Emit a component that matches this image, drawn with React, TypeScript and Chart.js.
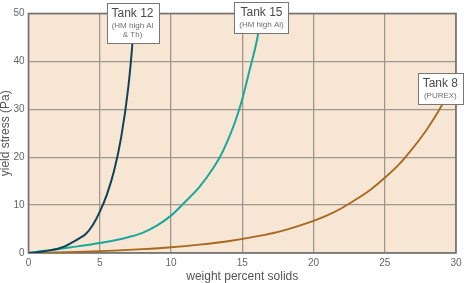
import React, { useEffect, useRef } from "react";
import { Chart, registerables } from "chart.js";

Chart.register(...registerables);

// ---- data ----
const tank12X = [0, 0.5, 1, 1.5, 2, 2.5, 3, 3.5, 4, 4.5, 5, 5.5, 6, 6.5, 7, 7.3, 7.5];
const tank12Y = [0, 0.13, 0.32, 0.55, 0.85, 1.32, 2.1, 2.95, 3.9, 5.8, 8.6, 12.2, 17.1, 24.1, 34.5, 44, 52.7];

const tank15X = [0, 1, 2, 3, 4, 5, 6, 7, 8, 9, 10, 11, 12, 13, 13.5, 14, 14.5, 15, 15.5, 16, 16.5];
const tank15Y = [0, 0.4, 0.8, 1.2, 1.6, 2.1, 2.6, 3.3, 4.2, 5.7, 7.8, 10.7, 13.8, 17.9, 20.4, 23.6, 27.4, 32.1, 38, 44, 52];

const tank8X = [0, 2, 4, 6, 8, 10, 12, 14, 16, 18, 20, 21, 22, 23, 24, 25, 26, 27, 28, 29, 30];
const tank8Y = [0, 0.15, 0.3, 0.5, 0.8, 1.2, 1.75, 2.45, 3.45, 4.8, 6.7, 7.9, 9.4, 11.2, 13.2, 15.7, 18.5, 22, 26, 30.8, 36.6];

const seriesNames = ["Tank 12", "Tank 15", "Tank 8"];
const labelSubs = [["(HM high Al", "& Th)"], ["(HM high Al)"], ["(PUREX)"]];
// label anchor: center x value, top y value (data units)
const labelAnchorX = [7.3, 16.35, 28.9];
const labelAnchorY = [52.1, 52.4, 37.6];

const xTitle = "weight percent solids";
const yTitle = "yield stress (Pa)";

const toPoints = (xs: number[], ys: number[]) => xs.map((x, i) => ({ x, y: ys[i] }));

const FONT = "'Liberation Sans', Arial, sans-serif";

const bgPlugin = {
  id: "bgPlugin",
  beforeDraw(chart: any) {
    const { ctx, chartArea: a } = chart;
    ctx.save();
    ctx.fillStyle = "#f6e6d3";
    ctx.fillRect(a.left, a.top, a.right - a.left, a.bottom - a.top);
    ctx.restore();
  },
  beforeDatasetsDraw(chart: any) {
    const { ctx, chartArea: a } = chart;
    ctx.save();
    ctx.strokeStyle = "#727272";
    ctx.lineWidth = 1.6;
    ctx.strokeRect(a.left, a.top, a.right - a.left, a.bottom - a.top);
    ctx.restore();
  },
  afterDatasetsDraw(chart: any) {
    const { ctx } = chart;
    const xs = chart.scales.x;
    const ys = chart.scales.y;
    ctx.save();
    seriesNames.forEach((name, i) => {
      const cx = xs.getPixelForValue(labelAnchorX[i]);
      const top = ys.getPixelForValue(labelAnchorY[i]);
      ctx.font = `12px ${FONT}`;
      let w = ctx.measureText(name).width;
      ctx.font = `8px ${FONT}`;
      labelSubs[i].forEach((s) => {
        w = Math.max(w, ctx.measureText(s).width);
      });
      const bw = Math.round(w + 10);
      const bh = 4 + 14 + 9 * labelSubs[i].length + 4;
      const left = Math.round(cx - bw / 2) + 0.5;
      const t = Math.round(top) + 0.5;
      ctx.fillStyle = "#ffffff";
      ctx.fillRect(left, t, bw, bh);
      ctx.strokeStyle = "#777777";
      ctx.lineWidth = 1;
      ctx.strokeRect(left, t, bw, bh);
      ctx.textAlign = "center";
      ctx.textBaseline = "top";
      ctx.fillStyle = "#4a4a4a";
      ctx.font = `12px ${FONT}`;
      ctx.fillText(name, cx, t + 4);
      ctx.fillStyle = "#6e6e6e";
      ctx.font = `8px ${FONT}`;
      labelSubs[i].forEach((s, j) => {
        ctx.fillText(s, cx, t + 18 + 9 * j);
      });
    });
    ctx.restore();
  },
};

export default function App() {
  const ref = useRef<HTMLCanvasElement | null>(null);
  useEffect(() => {
    document.body.style.margin = "0";
    const canvas = ref.current;
    if (!canvas) return;
    const chart = new Chart(canvas, {
      type: "line",
      data: {
        datasets: [
          {
            label: seriesNames[0],
            data: toPoints(tank12X, tank12Y),
            borderColor: "#0f4258",
            borderWidth: 2,
            pointRadius: 0,
            cubicInterpolationMode: "monotone",
          },
          {
            label: seriesNames[1],
            data: toPoints(tank15X, tank15Y),
            borderColor: "#1aa89c",
            borderWidth: 2,
            pointRadius: 0,
            cubicInterpolationMode: "monotone",
          },
          {
            label: seriesNames[2],
            data: toPoints(tank8X, tank8Y),
            borderColor: "#a8681f",
            borderWidth: 1.8,
            pointRadius: 0,
            cubicInterpolationMode: "monotone",
          },
        ],
      },
      options: {
        animation: false,
        responsive: false,
        devicePixelRatio: 1,
        layout: { padding: { top: 13.5, right: 15, left: 0, bottom: 0 } },
        plugins: { legend: { display: false }, tooltip: { enabled: false } },
        scales: {
          x: {
            type: "linear",
            min: 0,
            max: 30,
            afterFit: (s: any) => {
              s.height = 30;
            },
            border: { display: false },
            grid: { color: "#a0978c", lineWidth: 1.3, drawTicks: false },
            ticks: {
              stepSize: 5,
              padding: 4,
              color: "#666666",
              font: { family: FONT, size: 10 },
              maxRotation: 0,
            },
            title: {
              display: true,
              text: xTitle,
              color: "#555555",
              font: { family: FONT, size: 12, lineHeight: 1.0 },
              padding: { top: 0, bottom: 0 },
            },
          },
          y: {
            type: "linear",
            min: 0,
            max: 50,
            afterFit: (s: any) => {
              s.width = 28.5;
            },
            border: { display: false },
            grid: { color: "#a0978c", lineWidth: 1.3, drawTicks: false },
            ticks: {
              stepSize: 10,
              padding: 4,
              color: "#666666",
              font: { family: FONT, size: 10 },
            },
            title: {
              display: true,
              text: yTitle,
              color: "#555555",
              font: { family: FONT, size: 12, lineHeight: 1.0 },
              padding: { top: 0, bottom: 0 },
            },
          },
        },
      },
      plugins: [bgPlugin],
    } as any);
    return () => chart.destroy();
  }, []);
  return (
    <div style={{ width: 471, height: 283 }}>
      <canvas ref={ref} width={471} height={283} style={{ width: 471, height: 283, display: "block" }} />
    </div>
  );
}
